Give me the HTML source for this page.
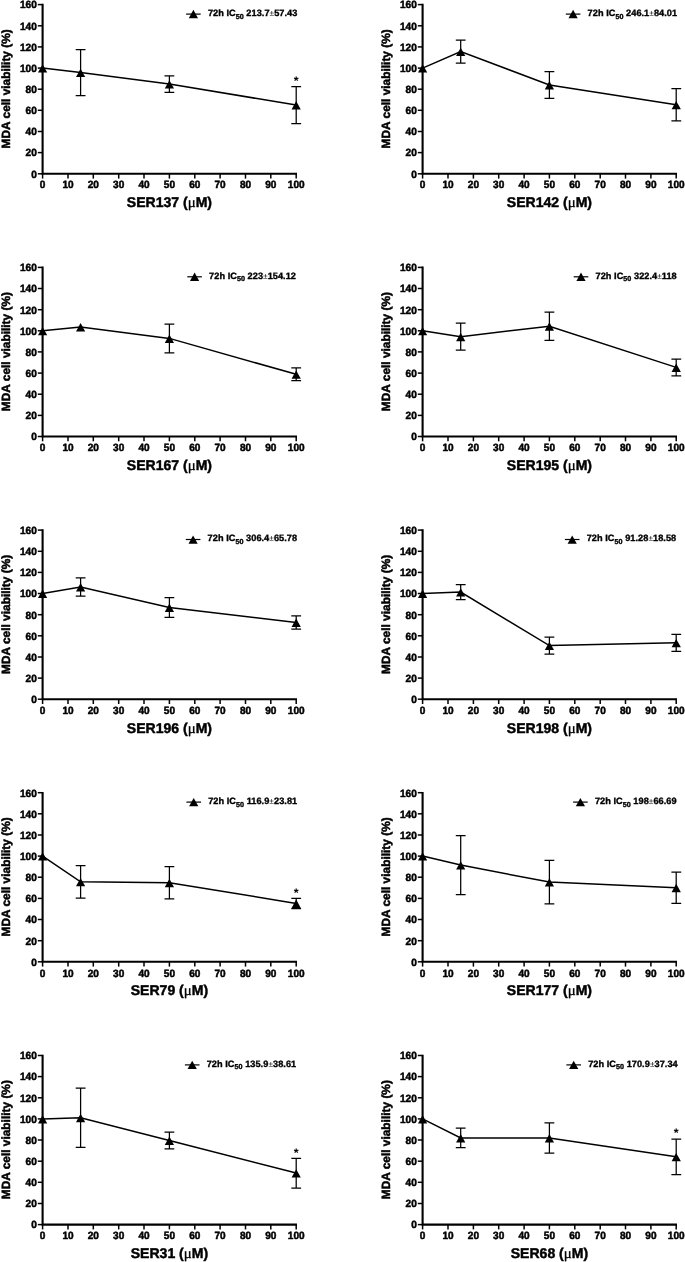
<!DOCTYPE html>
<html><head><meta charset="utf-8"><title>MDA cell viability</title>
<style>
html,body{margin:0;padding:0;background:#fff;}
svg{display:block;}
.wrap{width:685px;height:1262px;overflow:hidden;will-change:transform;}
text{font-family:"Liberation Sans",sans-serif;font-weight:bold;fill:#000;text-rendering:geometricPrecision;}
.t{font-size:10.5px;stroke:#000;stroke-width:0.5px;stroke-linejoin:round;}
.yt{font-size:11.9px;stroke:#000;stroke-width:0.5px;stroke-linejoin:round;}
.xt{font-size:14.05px;stroke:#000;stroke-width:0.45px;stroke-linejoin:round;}
.mu{font-family:"Liberation Serif",serif;font-weight:normal;font-size:14.8px;stroke:#000;stroke-width:0.3px;}
.lg{letter-spacing:0.04px;font-size:9.2px;stroke:#000;stroke-width:0.35px;stroke-linejoin:round;}
.pm{font-weight:normal;stroke:none;font-size:8.4px;}
.sub{font-size:7.2px;}
.st{font-size:12.5px;}
</style></head><body>
<div class="wrap">
<svg width="685" height="1262" viewBox="0 0 685 1262">
<rect width="685" height="1262" fill="#fff"/>
<path d="M42.6 3.8V173.8H297.0" fill="none" stroke="#000" stroke-width="2.1"/>
<path d="M37.8 173.8H42.6" stroke="#000" stroke-width="1.5"/>
<text transform="translate(36.8 177.6) scale(0.96 1)" text-anchor="end" class="t">0</text>
<path d="M37.8 152.6H42.6" stroke="#000" stroke-width="1.5"/>
<text transform="translate(36.8 156.4) scale(0.96 1)" text-anchor="end" class="t">20</text>
<path d="M37.8 131.5H42.6" stroke="#000" stroke-width="1.5"/>
<text transform="translate(36.8 135.3) scale(0.96 1)" text-anchor="end" class="t">40</text>
<path d="M37.8 110.3H42.6" stroke="#000" stroke-width="1.5"/>
<text transform="translate(36.8 114.1) scale(0.96 1)" text-anchor="end" class="t">60</text>
<path d="M37.8 89.2H42.6" stroke="#000" stroke-width="1.5"/>
<text transform="translate(36.8 93.0) scale(0.96 1)" text-anchor="end" class="t">80</text>
<path d="M37.8 68.1H42.6" stroke="#000" stroke-width="1.5"/>
<text transform="translate(36.8 71.9) scale(0.96 1)" text-anchor="end" class="t">100</text>
<path d="M37.8 46.9H42.6" stroke="#000" stroke-width="1.5"/>
<text transform="translate(36.8 50.7) scale(0.96 1)" text-anchor="end" class="t">120</text>
<path d="M37.8 25.8H42.6" stroke="#000" stroke-width="1.5"/>
<text transform="translate(36.8 29.6) scale(0.96 1)" text-anchor="end" class="t">140</text>
<path d="M37.8 4.6H42.6" stroke="#000" stroke-width="1.5"/>
<text transform="translate(36.8 8.4) scale(0.96 1)" text-anchor="end" class="t">160</text>
<path d="M42.6 173.8V178.6" stroke="#000" stroke-width="1.5"/>
<text transform="translate(42.6 188.4) scale(0.96 1)" text-anchor="middle" class="t">0</text>
<path d="M68.0 173.8V178.6" stroke="#000" stroke-width="1.5"/>
<text transform="translate(68.0 188.4) scale(0.96 1)" text-anchor="middle" class="t">10</text>
<path d="M93.3 173.8V178.6" stroke="#000" stroke-width="1.5"/>
<text transform="translate(93.3 188.4) scale(0.96 1)" text-anchor="middle" class="t">20</text>
<path d="M118.7 173.8V178.6" stroke="#000" stroke-width="1.5"/>
<text transform="translate(118.7 188.4) scale(0.96 1)" text-anchor="middle" class="t">30</text>
<path d="M144.0 173.8V178.6" stroke="#000" stroke-width="1.5"/>
<text transform="translate(144.0 188.4) scale(0.96 1)" text-anchor="middle" class="t">40</text>
<path d="M169.4 173.8V178.6" stroke="#000" stroke-width="1.5"/>
<text transform="translate(169.4 188.4) scale(0.96 1)" text-anchor="middle" class="t">50</text>
<path d="M194.8 173.8V178.6" stroke="#000" stroke-width="1.5"/>
<text transform="translate(194.8 188.4) scale(0.96 1)" text-anchor="middle" class="t">60</text>
<path d="M220.1 173.8V178.6" stroke="#000" stroke-width="1.5"/>
<text transform="translate(220.1 188.4) scale(0.96 1)" text-anchor="middle" class="t">70</text>
<path d="M245.5 173.8V178.6" stroke="#000" stroke-width="1.5"/>
<text transform="translate(245.5 188.4) scale(0.96 1)" text-anchor="middle" class="t">80</text>
<path d="M270.8 173.8V178.6" stroke="#000" stroke-width="1.5"/>
<text transform="translate(270.8 188.4) scale(0.96 1)" text-anchor="middle" class="t">90</text>
<path d="M296.2 173.8V178.6" stroke="#000" stroke-width="1.5"/>
<text transform="translate(296.2 188.4) scale(0.96 1)" text-anchor="middle" class="t">100</text>
<text transform="translate(10.4 88.8) rotate(-90)" text-anchor="middle" class="yt">MDA cell viability (%)</text>
<text x="169.4" y="207.3" text-anchor="middle" class="xt">SER137 (<tspan class="mu">μ</tspan>M)</text>
<path d="M42.6 68.1L80.6 72.6L169.4 84.1L296.2 105.0" fill="none" stroke="#000" stroke-width="1.5"/>
<path d="M42.6 64.2L47.2 72.6H38.0Z" fill="#000"/>
<path d="M80.6 49.6V95.7M75.7 49.6h9.8M75.7 95.7h9.8" fill="none" stroke="#000" stroke-width="1.25"/>
<path d="M80.6 68.7L85.2 77.1H76.0Z" fill="#000"/>
<path d="M169.4 75.9V92.4M164.5 75.9h9.8M164.5 92.4h9.8" fill="none" stroke="#000" stroke-width="1.25"/>
<path d="M169.4 80.2L174.0 88.6H164.8Z" fill="#000"/>
<path d="M296.2 86.5V123.6M291.3 86.5h9.8M291.3 123.6h9.8" fill="none" stroke="#000" stroke-width="1.25"/>
<path d="M296.2 101.1L300.8 109.5H291.6Z" fill="#000"/>
<text x="296.2" y="85.2" text-anchor="middle" class="st">*</text>
<path d="M186.1 14.1h14.6" stroke="#000" stroke-width="1.2"/>
<path d="M193.4 9.8L198.0 18.2H188.8Z" fill="#000"/>
<text x="207.9" y="15.8" class="lg">72h IC<tspan class="sub" dy="2.7">50</tspan><tspan dy="-2.7"> 213.7<tspan class="pm">±</tspan>57.43</tspan></text>
<path d="M422.6 3.8V173.8H677.0" fill="none" stroke="#000" stroke-width="2.1"/>
<path d="M417.8 173.8H422.6" stroke="#000" stroke-width="1.5"/>
<text transform="translate(416.8 177.6) scale(0.96 1)" text-anchor="end" class="t">0</text>
<path d="M417.8 152.6H422.6" stroke="#000" stroke-width="1.5"/>
<text transform="translate(416.8 156.4) scale(0.96 1)" text-anchor="end" class="t">20</text>
<path d="M417.8 131.5H422.6" stroke="#000" stroke-width="1.5"/>
<text transform="translate(416.8 135.3) scale(0.96 1)" text-anchor="end" class="t">40</text>
<path d="M417.8 110.3H422.6" stroke="#000" stroke-width="1.5"/>
<text transform="translate(416.8 114.1) scale(0.96 1)" text-anchor="end" class="t">60</text>
<path d="M417.8 89.2H422.6" stroke="#000" stroke-width="1.5"/>
<text transform="translate(416.8 93.0) scale(0.96 1)" text-anchor="end" class="t">80</text>
<path d="M417.8 68.1H422.6" stroke="#000" stroke-width="1.5"/>
<text transform="translate(416.8 71.9) scale(0.96 1)" text-anchor="end" class="t">100</text>
<path d="M417.8 46.9H422.6" stroke="#000" stroke-width="1.5"/>
<text transform="translate(416.8 50.7) scale(0.96 1)" text-anchor="end" class="t">120</text>
<path d="M417.8 25.8H422.6" stroke="#000" stroke-width="1.5"/>
<text transform="translate(416.8 29.6) scale(0.96 1)" text-anchor="end" class="t">140</text>
<path d="M417.8 4.6H422.6" stroke="#000" stroke-width="1.5"/>
<text transform="translate(416.8 8.4) scale(0.96 1)" text-anchor="end" class="t">160</text>
<path d="M422.6 173.8V178.6" stroke="#000" stroke-width="1.5"/>
<text transform="translate(422.6 188.4) scale(0.96 1)" text-anchor="middle" class="t">0</text>
<path d="M448.0 173.8V178.6" stroke="#000" stroke-width="1.5"/>
<text transform="translate(448.0 188.4) scale(0.96 1)" text-anchor="middle" class="t">10</text>
<path d="M473.4 173.8V178.6" stroke="#000" stroke-width="1.5"/>
<text transform="translate(473.4 188.4) scale(0.96 1)" text-anchor="middle" class="t">20</text>
<path d="M498.7 173.8V178.6" stroke="#000" stroke-width="1.5"/>
<text transform="translate(498.7 188.4) scale(0.96 1)" text-anchor="middle" class="t">30</text>
<path d="M524.1 173.8V178.6" stroke="#000" stroke-width="1.5"/>
<text transform="translate(524.1 188.4) scale(0.96 1)" text-anchor="middle" class="t">40</text>
<path d="M549.4 173.8V178.6" stroke="#000" stroke-width="1.5"/>
<text transform="translate(549.4 188.4) scale(0.96 1)" text-anchor="middle" class="t">50</text>
<path d="M574.8 173.8V178.6" stroke="#000" stroke-width="1.5"/>
<text transform="translate(574.8 188.4) scale(0.96 1)" text-anchor="middle" class="t">60</text>
<path d="M600.2 173.8V178.6" stroke="#000" stroke-width="1.5"/>
<text transform="translate(600.2 188.4) scale(0.96 1)" text-anchor="middle" class="t">70</text>
<path d="M625.5 173.8V178.6" stroke="#000" stroke-width="1.5"/>
<text transform="translate(625.5 188.4) scale(0.96 1)" text-anchor="middle" class="t">80</text>
<path d="M650.9 173.8V178.6" stroke="#000" stroke-width="1.5"/>
<text transform="translate(650.9 188.4) scale(0.96 1)" text-anchor="middle" class="t">90</text>
<path d="M676.2 173.8V178.6" stroke="#000" stroke-width="1.5"/>
<text transform="translate(676.2 188.4) scale(0.96 1)" text-anchor="middle" class="t">100</text>
<text transform="translate(390.4 88.8) rotate(-90)" text-anchor="middle" class="yt">MDA cell viability (%)</text>
<text x="549.4" y="207.3" text-anchor="middle" class="xt">SER142 (<tspan class="mu">μ</tspan>M)</text>
<path d="M422.6 68.1L460.7 51.6L549.4 84.9L676.2 104.8" fill="none" stroke="#000" stroke-width="1.5"/>
<path d="M422.6 64.2L427.2 72.6H418.0Z" fill="#000"/>
<path d="M460.7 40.1V63.1M455.8 40.1h9.8M455.8 63.1h9.8" fill="none" stroke="#000" stroke-width="1.25"/>
<path d="M460.7 47.7L465.3 56.1H456.1Z" fill="#000"/>
<path d="M549.4 71.5V98.3M544.5 71.5h9.8M544.5 98.3h9.8" fill="none" stroke="#000" stroke-width="1.25"/>
<path d="M549.4 81.0L554.0 89.4H544.8Z" fill="#000"/>
<path d="M676.2 88.7V120.9M671.4 88.7h9.8M671.4 120.9h9.8" fill="none" stroke="#000" stroke-width="1.25"/>
<path d="M676.2 100.9L680.9 109.3H671.6Z" fill="#000"/>
<path d="M565.8 14.1h14.6" stroke="#000" stroke-width="1.2"/>
<path d="M573.1 9.8L577.7 18.2H568.5Z" fill="#000"/>
<text x="587.6" y="15.8" class="lg">72h IC<tspan class="sub" dy="2.7">50</tspan><tspan dy="-2.7"> 246.1<tspan class="pm">±</tspan>84.01</tspan></text>
<path d="M42.6 266.6V436.5H297.0" fill="none" stroke="#000" stroke-width="2.1"/>
<path d="M37.8 436.5H42.6" stroke="#000" stroke-width="1.5"/>
<text transform="translate(36.8 440.3) scale(0.96 1)" text-anchor="end" class="t">0</text>
<path d="M37.8 415.4H42.6" stroke="#000" stroke-width="1.5"/>
<text transform="translate(36.8 419.2) scale(0.96 1)" text-anchor="end" class="t">20</text>
<path d="M37.8 394.2H42.6" stroke="#000" stroke-width="1.5"/>
<text transform="translate(36.8 398.0) scale(0.96 1)" text-anchor="end" class="t">40</text>
<path d="M37.8 373.1H42.6" stroke="#000" stroke-width="1.5"/>
<text transform="translate(36.8 376.9) scale(0.96 1)" text-anchor="end" class="t">60</text>
<path d="M37.8 351.9H42.6" stroke="#000" stroke-width="1.5"/>
<text transform="translate(36.8 355.7) scale(0.96 1)" text-anchor="end" class="t">80</text>
<path d="M37.8 330.8H42.6" stroke="#000" stroke-width="1.5"/>
<text transform="translate(36.8 334.6) scale(0.96 1)" text-anchor="end" class="t">100</text>
<path d="M37.8 309.7H42.6" stroke="#000" stroke-width="1.5"/>
<text transform="translate(36.8 313.5) scale(0.96 1)" text-anchor="end" class="t">120</text>
<path d="M37.8 288.5H42.6" stroke="#000" stroke-width="1.5"/>
<text transform="translate(36.8 292.3) scale(0.96 1)" text-anchor="end" class="t">140</text>
<path d="M37.8 267.4H42.6" stroke="#000" stroke-width="1.5"/>
<text transform="translate(36.8 271.2) scale(0.96 1)" text-anchor="end" class="t">160</text>
<path d="M42.6 436.5V441.3" stroke="#000" stroke-width="1.5"/>
<text transform="translate(42.6 451.2) scale(0.96 1)" text-anchor="middle" class="t">0</text>
<path d="M68.0 436.5V441.3" stroke="#000" stroke-width="1.5"/>
<text transform="translate(68.0 451.2) scale(0.96 1)" text-anchor="middle" class="t">10</text>
<path d="M93.3 436.5V441.3" stroke="#000" stroke-width="1.5"/>
<text transform="translate(93.3 451.2) scale(0.96 1)" text-anchor="middle" class="t">20</text>
<path d="M118.7 436.5V441.3" stroke="#000" stroke-width="1.5"/>
<text transform="translate(118.7 451.2) scale(0.96 1)" text-anchor="middle" class="t">30</text>
<path d="M144.0 436.5V441.3" stroke="#000" stroke-width="1.5"/>
<text transform="translate(144.0 451.2) scale(0.96 1)" text-anchor="middle" class="t">40</text>
<path d="M169.4 436.5V441.3" stroke="#000" stroke-width="1.5"/>
<text transform="translate(169.4 451.2) scale(0.96 1)" text-anchor="middle" class="t">50</text>
<path d="M194.8 436.5V441.3" stroke="#000" stroke-width="1.5"/>
<text transform="translate(194.8 451.2) scale(0.96 1)" text-anchor="middle" class="t">60</text>
<path d="M220.1 436.5V441.3" stroke="#000" stroke-width="1.5"/>
<text transform="translate(220.1 451.2) scale(0.96 1)" text-anchor="middle" class="t">70</text>
<path d="M245.5 436.5V441.3" stroke="#000" stroke-width="1.5"/>
<text transform="translate(245.5 451.2) scale(0.96 1)" text-anchor="middle" class="t">80</text>
<path d="M270.8 436.5V441.3" stroke="#000" stroke-width="1.5"/>
<text transform="translate(270.8 451.2) scale(0.96 1)" text-anchor="middle" class="t">90</text>
<path d="M296.2 436.5V441.3" stroke="#000" stroke-width="1.5"/>
<text transform="translate(296.2 451.2) scale(0.96 1)" text-anchor="middle" class="t">100</text>
<text transform="translate(10.4 351.6) rotate(-90)" text-anchor="middle" class="yt">MDA cell viability (%)</text>
<text x="169.4" y="470.1" text-anchor="middle" class="xt">SER167 (<tspan class="mu">μ</tspan>M)</text>
<path d="M42.6 330.8L80.6 326.9L169.4 338.4L296.2 374.3" fill="none" stroke="#000" stroke-width="1.5"/>
<path d="M42.6 326.9L47.2 335.3H38.0Z" fill="#000"/>
<path d="M80.6 323.0L85.2 331.4H76.0Z" fill="#000"/>
<path d="M169.4 324.0V352.8M164.5 324.0h9.8M164.5 352.8h9.8" fill="none" stroke="#000" stroke-width="1.25"/>
<path d="M169.4 334.5L174.0 342.9H164.8Z" fill="#000"/>
<path d="M296.2 367.9V380.6M291.3 367.9h9.8M291.3 380.6h9.8" fill="none" stroke="#000" stroke-width="1.25"/>
<path d="M296.2 370.4L300.8 378.8H291.6Z" fill="#000"/>
<path d="M187.3 276.8h14.6" stroke="#000" stroke-width="1.2"/>
<path d="M194.6 272.6L199.2 281.0H190.0Z" fill="#000"/>
<text x="209.1" y="278.5" class="lg">72h IC<tspan class="sub" dy="2.7">50</tspan><tspan dy="-2.7"> 223<tspan class="pm">±</tspan>154.12</tspan></text>
<path d="M422.6 266.6V436.5H677.0" fill="none" stroke="#000" stroke-width="2.1"/>
<path d="M417.8 436.5H422.6" stroke="#000" stroke-width="1.5"/>
<text transform="translate(416.8 440.3) scale(0.96 1)" text-anchor="end" class="t">0</text>
<path d="M417.8 415.4H422.6" stroke="#000" stroke-width="1.5"/>
<text transform="translate(416.8 419.2) scale(0.96 1)" text-anchor="end" class="t">20</text>
<path d="M417.8 394.2H422.6" stroke="#000" stroke-width="1.5"/>
<text transform="translate(416.8 398.0) scale(0.96 1)" text-anchor="end" class="t">40</text>
<path d="M417.8 373.1H422.6" stroke="#000" stroke-width="1.5"/>
<text transform="translate(416.8 376.9) scale(0.96 1)" text-anchor="end" class="t">60</text>
<path d="M417.8 351.9H422.6" stroke="#000" stroke-width="1.5"/>
<text transform="translate(416.8 355.7) scale(0.96 1)" text-anchor="end" class="t">80</text>
<path d="M417.8 330.8H422.6" stroke="#000" stroke-width="1.5"/>
<text transform="translate(416.8 334.6) scale(0.96 1)" text-anchor="end" class="t">100</text>
<path d="M417.8 309.7H422.6" stroke="#000" stroke-width="1.5"/>
<text transform="translate(416.8 313.5) scale(0.96 1)" text-anchor="end" class="t">120</text>
<path d="M417.8 288.5H422.6" stroke="#000" stroke-width="1.5"/>
<text transform="translate(416.8 292.3) scale(0.96 1)" text-anchor="end" class="t">140</text>
<path d="M417.8 267.4H422.6" stroke="#000" stroke-width="1.5"/>
<text transform="translate(416.8 271.2) scale(0.96 1)" text-anchor="end" class="t">160</text>
<path d="M422.6 436.5V441.3" stroke="#000" stroke-width="1.5"/>
<text transform="translate(422.6 451.2) scale(0.96 1)" text-anchor="middle" class="t">0</text>
<path d="M448.0 436.5V441.3" stroke="#000" stroke-width="1.5"/>
<text transform="translate(448.0 451.2) scale(0.96 1)" text-anchor="middle" class="t">10</text>
<path d="M473.4 436.5V441.3" stroke="#000" stroke-width="1.5"/>
<text transform="translate(473.4 451.2) scale(0.96 1)" text-anchor="middle" class="t">20</text>
<path d="M498.7 436.5V441.3" stroke="#000" stroke-width="1.5"/>
<text transform="translate(498.7 451.2) scale(0.96 1)" text-anchor="middle" class="t">30</text>
<path d="M524.1 436.5V441.3" stroke="#000" stroke-width="1.5"/>
<text transform="translate(524.1 451.2) scale(0.96 1)" text-anchor="middle" class="t">40</text>
<path d="M549.4 436.5V441.3" stroke="#000" stroke-width="1.5"/>
<text transform="translate(549.4 451.2) scale(0.96 1)" text-anchor="middle" class="t">50</text>
<path d="M574.8 436.5V441.3" stroke="#000" stroke-width="1.5"/>
<text transform="translate(574.8 451.2) scale(0.96 1)" text-anchor="middle" class="t">60</text>
<path d="M600.2 436.5V441.3" stroke="#000" stroke-width="1.5"/>
<text transform="translate(600.2 451.2) scale(0.96 1)" text-anchor="middle" class="t">70</text>
<path d="M625.5 436.5V441.3" stroke="#000" stroke-width="1.5"/>
<text transform="translate(625.5 451.2) scale(0.96 1)" text-anchor="middle" class="t">80</text>
<path d="M650.9 436.5V441.3" stroke="#000" stroke-width="1.5"/>
<text transform="translate(650.9 451.2) scale(0.96 1)" text-anchor="middle" class="t">90</text>
<path d="M676.2 436.5V441.3" stroke="#000" stroke-width="1.5"/>
<text transform="translate(676.2 451.2) scale(0.96 1)" text-anchor="middle" class="t">100</text>
<text transform="translate(390.4 351.6) rotate(-90)" text-anchor="middle" class="yt">MDA cell viability (%)</text>
<text x="549.4" y="470.1" text-anchor="middle" class="xt">SER195 (<tspan class="mu">μ</tspan>M)</text>
<path d="M422.6 330.8L460.7 336.7L549.4 326.2L676.2 367.4" fill="none" stroke="#000" stroke-width="1.5"/>
<path d="M422.6 326.9L427.2 335.3H418.0Z" fill="#000"/>
<path d="M460.7 323.2V350.2M455.8 323.2h9.8M455.8 350.2h9.8" fill="none" stroke="#000" stroke-width="1.25"/>
<path d="M460.7 332.8L465.3 341.2H456.1Z" fill="#000"/>
<path d="M549.4 312.0V340.3M544.5 312.0h9.8M544.5 340.3h9.8" fill="none" stroke="#000" stroke-width="1.25"/>
<path d="M549.4 322.3L554.0 330.7H544.8Z" fill="#000"/>
<path d="M676.2 359.0V375.8M671.4 359.0h9.8M671.4 375.8h9.8" fill="none" stroke="#000" stroke-width="1.25"/>
<path d="M676.2 363.5L680.9 371.9H671.6Z" fill="#000"/>
<path d="M573.7 276.8h14.6" stroke="#000" stroke-width="1.2"/>
<path d="M581.0 272.6L585.6 281.0H576.4Z" fill="#000"/>
<text x="595.5" y="278.5" class="lg">72h IC<tspan class="sub" dy="2.7">50</tspan><tspan dy="-2.7"> 322.4<tspan class="pm">±</tspan>118</tspan></text>
<path d="M42.6 529.3V699.2H297.0" fill="none" stroke="#000" stroke-width="2.1"/>
<path d="M37.8 699.2H42.6" stroke="#000" stroke-width="1.5"/>
<text transform="translate(36.8 703.0) scale(0.96 1)" text-anchor="end" class="t">0</text>
<path d="M37.8 678.1H42.6" stroke="#000" stroke-width="1.5"/>
<text transform="translate(36.8 681.9) scale(0.96 1)" text-anchor="end" class="t">20</text>
<path d="M37.8 657.0H42.6" stroke="#000" stroke-width="1.5"/>
<text transform="translate(36.8 660.8) scale(0.96 1)" text-anchor="end" class="t">40</text>
<path d="M37.8 635.8H42.6" stroke="#000" stroke-width="1.5"/>
<text transform="translate(36.8 639.6) scale(0.96 1)" text-anchor="end" class="t">60</text>
<path d="M37.8 614.7H42.6" stroke="#000" stroke-width="1.5"/>
<text transform="translate(36.8 618.5) scale(0.96 1)" text-anchor="end" class="t">80</text>
<path d="M37.8 593.5H42.6" stroke="#000" stroke-width="1.5"/>
<text transform="translate(36.8 597.3) scale(0.96 1)" text-anchor="end" class="t">100</text>
<path d="M37.8 572.4H42.6" stroke="#000" stroke-width="1.5"/>
<text transform="translate(36.8 576.2) scale(0.96 1)" text-anchor="end" class="t">120</text>
<path d="M37.8 551.3H42.6" stroke="#000" stroke-width="1.5"/>
<text transform="translate(36.8 555.1) scale(0.96 1)" text-anchor="end" class="t">140</text>
<path d="M37.8 530.1H42.6" stroke="#000" stroke-width="1.5"/>
<text transform="translate(36.8 533.9) scale(0.96 1)" text-anchor="end" class="t">160</text>
<path d="M42.6 699.2V704.0" stroke="#000" stroke-width="1.5"/>
<text transform="translate(42.6 714.0) scale(0.96 1)" text-anchor="middle" class="t">0</text>
<path d="M68.0 699.2V704.0" stroke="#000" stroke-width="1.5"/>
<text transform="translate(68.0 714.0) scale(0.96 1)" text-anchor="middle" class="t">10</text>
<path d="M93.3 699.2V704.0" stroke="#000" stroke-width="1.5"/>
<text transform="translate(93.3 714.0) scale(0.96 1)" text-anchor="middle" class="t">20</text>
<path d="M118.7 699.2V704.0" stroke="#000" stroke-width="1.5"/>
<text transform="translate(118.7 714.0) scale(0.96 1)" text-anchor="middle" class="t">30</text>
<path d="M144.0 699.2V704.0" stroke="#000" stroke-width="1.5"/>
<text transform="translate(144.0 714.0) scale(0.96 1)" text-anchor="middle" class="t">40</text>
<path d="M169.4 699.2V704.0" stroke="#000" stroke-width="1.5"/>
<text transform="translate(169.4 714.0) scale(0.96 1)" text-anchor="middle" class="t">50</text>
<path d="M194.8 699.2V704.0" stroke="#000" stroke-width="1.5"/>
<text transform="translate(194.8 714.0) scale(0.96 1)" text-anchor="middle" class="t">60</text>
<path d="M220.1 699.2V704.0" stroke="#000" stroke-width="1.5"/>
<text transform="translate(220.1 714.0) scale(0.96 1)" text-anchor="middle" class="t">70</text>
<path d="M245.5 699.2V704.0" stroke="#000" stroke-width="1.5"/>
<text transform="translate(245.5 714.0) scale(0.96 1)" text-anchor="middle" class="t">80</text>
<path d="M270.8 699.2V704.0" stroke="#000" stroke-width="1.5"/>
<text transform="translate(270.8 714.0) scale(0.96 1)" text-anchor="middle" class="t">90</text>
<path d="M296.2 699.2V704.0" stroke="#000" stroke-width="1.5"/>
<text transform="translate(296.2 714.0) scale(0.96 1)" text-anchor="middle" class="t">100</text>
<text transform="translate(10.4 614.4) rotate(-90)" text-anchor="middle" class="yt">MDA cell viability (%)</text>
<text x="169.4" y="732.9" text-anchor="middle" class="xt">SER196 (<tspan class="mu">μ</tspan>M)</text>
<path d="M42.6 593.5L80.6 587.0L169.4 607.5L296.2 622.5" fill="none" stroke="#000" stroke-width="1.5"/>
<path d="M42.6 589.6L47.2 598.0H38.0Z" fill="#000"/>
<path d="M80.6 577.8V596.1M75.7 577.8h9.8M75.7 596.1h9.8" fill="none" stroke="#000" stroke-width="1.25"/>
<path d="M80.6 583.1L85.2 591.5H76.0Z" fill="#000"/>
<path d="M169.4 597.5V617.4M164.5 597.5h9.8M164.5 617.4h9.8" fill="none" stroke="#000" stroke-width="1.25"/>
<path d="M169.4 603.6L174.0 612.0H164.8Z" fill="#000"/>
<path d="M296.2 615.9V629.0M291.3 615.9h9.8M291.3 629.0h9.8" fill="none" stroke="#000" stroke-width="1.25"/>
<path d="M296.2 618.6L300.8 627.0H291.6Z" fill="#000"/>
<path d="M185.8 539.5h14.6" stroke="#000" stroke-width="1.2"/>
<path d="M193.1 535.4L197.7 543.8H188.5Z" fill="#000"/>
<text x="207.6" y="541.2" class="lg">72h IC<tspan class="sub" dy="2.7">50</tspan><tspan dy="-2.7"> 306.4<tspan class="pm">±</tspan>65.78</tspan></text>
<path d="M422.6 529.3V699.2H677.0" fill="none" stroke="#000" stroke-width="2.1"/>
<path d="M417.8 699.2H422.6" stroke="#000" stroke-width="1.5"/>
<text transform="translate(416.8 703.0) scale(0.96 1)" text-anchor="end" class="t">0</text>
<path d="M417.8 678.1H422.6" stroke="#000" stroke-width="1.5"/>
<text transform="translate(416.8 681.9) scale(0.96 1)" text-anchor="end" class="t">20</text>
<path d="M417.8 657.0H422.6" stroke="#000" stroke-width="1.5"/>
<text transform="translate(416.8 660.8) scale(0.96 1)" text-anchor="end" class="t">40</text>
<path d="M417.8 635.8H422.6" stroke="#000" stroke-width="1.5"/>
<text transform="translate(416.8 639.6) scale(0.96 1)" text-anchor="end" class="t">60</text>
<path d="M417.8 614.7H422.6" stroke="#000" stroke-width="1.5"/>
<text transform="translate(416.8 618.5) scale(0.96 1)" text-anchor="end" class="t">80</text>
<path d="M417.8 593.5H422.6" stroke="#000" stroke-width="1.5"/>
<text transform="translate(416.8 597.3) scale(0.96 1)" text-anchor="end" class="t">100</text>
<path d="M417.8 572.4H422.6" stroke="#000" stroke-width="1.5"/>
<text transform="translate(416.8 576.2) scale(0.96 1)" text-anchor="end" class="t">120</text>
<path d="M417.8 551.3H422.6" stroke="#000" stroke-width="1.5"/>
<text transform="translate(416.8 555.1) scale(0.96 1)" text-anchor="end" class="t">140</text>
<path d="M417.8 530.1H422.6" stroke="#000" stroke-width="1.5"/>
<text transform="translate(416.8 533.9) scale(0.96 1)" text-anchor="end" class="t">160</text>
<path d="M422.6 699.2V704.0" stroke="#000" stroke-width="1.5"/>
<text transform="translate(422.6 714.0) scale(0.96 1)" text-anchor="middle" class="t">0</text>
<path d="M448.0 699.2V704.0" stroke="#000" stroke-width="1.5"/>
<text transform="translate(448.0 714.0) scale(0.96 1)" text-anchor="middle" class="t">10</text>
<path d="M473.4 699.2V704.0" stroke="#000" stroke-width="1.5"/>
<text transform="translate(473.4 714.0) scale(0.96 1)" text-anchor="middle" class="t">20</text>
<path d="M498.7 699.2V704.0" stroke="#000" stroke-width="1.5"/>
<text transform="translate(498.7 714.0) scale(0.96 1)" text-anchor="middle" class="t">30</text>
<path d="M524.1 699.2V704.0" stroke="#000" stroke-width="1.5"/>
<text transform="translate(524.1 714.0) scale(0.96 1)" text-anchor="middle" class="t">40</text>
<path d="M549.4 699.2V704.0" stroke="#000" stroke-width="1.5"/>
<text transform="translate(549.4 714.0) scale(0.96 1)" text-anchor="middle" class="t">50</text>
<path d="M574.8 699.2V704.0" stroke="#000" stroke-width="1.5"/>
<text transform="translate(574.8 714.0) scale(0.96 1)" text-anchor="middle" class="t">60</text>
<path d="M600.2 699.2V704.0" stroke="#000" stroke-width="1.5"/>
<text transform="translate(600.2 714.0) scale(0.96 1)" text-anchor="middle" class="t">70</text>
<path d="M625.5 699.2V704.0" stroke="#000" stroke-width="1.5"/>
<text transform="translate(625.5 714.0) scale(0.96 1)" text-anchor="middle" class="t">80</text>
<path d="M650.9 699.2V704.0" stroke="#000" stroke-width="1.5"/>
<text transform="translate(650.9 714.0) scale(0.96 1)" text-anchor="middle" class="t">90</text>
<path d="M676.2 699.2V704.0" stroke="#000" stroke-width="1.5"/>
<text transform="translate(676.2 714.0) scale(0.96 1)" text-anchor="middle" class="t">100</text>
<text transform="translate(390.4 614.4) rotate(-90)" text-anchor="middle" class="yt">MDA cell viability (%)</text>
<text x="549.4" y="732.9" text-anchor="middle" class="xt">SER198 (<tspan class="mu">μ</tspan>M)</text>
<path d="M422.6 593.5L460.7 592.1L549.4 645.6L676.2 642.8" fill="none" stroke="#000" stroke-width="1.5"/>
<path d="M422.6 589.6L427.2 598.0H418.0Z" fill="#000"/>
<path d="M460.7 584.5V599.6M455.8 584.5h9.8M455.8 599.6h9.8" fill="none" stroke="#000" stroke-width="1.25"/>
<path d="M460.7 588.2L465.3 596.6H456.1Z" fill="#000"/>
<path d="M549.4 637.1V654.2M544.5 637.1h9.8M544.5 654.2h9.8" fill="none" stroke="#000" stroke-width="1.25"/>
<path d="M549.4 641.7L554.0 650.1H544.8Z" fill="#000"/>
<path d="M676.2 634.3V651.3M671.4 634.3h9.8M671.4 651.3h9.8" fill="none" stroke="#000" stroke-width="1.25"/>
<path d="M676.2 638.9L680.9 647.3H671.6Z" fill="#000"/>
<path d="M564.9 539.5h14.6" stroke="#000" stroke-width="1.2"/>
<path d="M572.2 535.4L576.8 543.8H567.6Z" fill="#000"/>
<text x="586.7" y="541.2" class="lg">72h IC<tspan class="sub" dy="2.7">50</tspan><tspan dy="-2.7"> 91.28<tspan class="pm">±</tspan>18.58</tspan></text>
<path d="M42.6 791.9V961.8H297.0" fill="none" stroke="#000" stroke-width="2.1"/>
<path d="M37.8 961.8H42.6" stroke="#000" stroke-width="1.5"/>
<text transform="translate(36.8 965.6) scale(0.96 1)" text-anchor="end" class="t">0</text>
<path d="M37.8 940.7H42.6" stroke="#000" stroke-width="1.5"/>
<text transform="translate(36.8 944.5) scale(0.96 1)" text-anchor="end" class="t">20</text>
<path d="M37.8 919.5H42.6" stroke="#000" stroke-width="1.5"/>
<text transform="translate(36.8 923.3) scale(0.96 1)" text-anchor="end" class="t">40</text>
<path d="M37.8 898.4H42.6" stroke="#000" stroke-width="1.5"/>
<text transform="translate(36.8 902.2) scale(0.96 1)" text-anchor="end" class="t">60</text>
<path d="M37.8 877.2H42.6" stroke="#000" stroke-width="1.5"/>
<text transform="translate(36.8 881.0) scale(0.96 1)" text-anchor="end" class="t">80</text>
<path d="M37.8 856.1H42.6" stroke="#000" stroke-width="1.5"/>
<text transform="translate(36.8 859.9) scale(0.96 1)" text-anchor="end" class="t">100</text>
<path d="M37.8 835.0H42.6" stroke="#000" stroke-width="1.5"/>
<text transform="translate(36.8 838.8) scale(0.96 1)" text-anchor="end" class="t">120</text>
<path d="M37.8 813.8H42.6" stroke="#000" stroke-width="1.5"/>
<text transform="translate(36.8 817.6) scale(0.96 1)" text-anchor="end" class="t">140</text>
<path d="M37.8 792.7H42.6" stroke="#000" stroke-width="1.5"/>
<text transform="translate(36.8 796.5) scale(0.96 1)" text-anchor="end" class="t">160</text>
<path d="M42.6 961.8V966.6" stroke="#000" stroke-width="1.5"/>
<text transform="translate(42.6 976.5) scale(0.96 1)" text-anchor="middle" class="t">0</text>
<path d="M68.0 961.8V966.6" stroke="#000" stroke-width="1.5"/>
<text transform="translate(68.0 976.5) scale(0.96 1)" text-anchor="middle" class="t">10</text>
<path d="M93.3 961.8V966.6" stroke="#000" stroke-width="1.5"/>
<text transform="translate(93.3 976.5) scale(0.96 1)" text-anchor="middle" class="t">20</text>
<path d="M118.7 961.8V966.6" stroke="#000" stroke-width="1.5"/>
<text transform="translate(118.7 976.5) scale(0.96 1)" text-anchor="middle" class="t">30</text>
<path d="M144.0 961.8V966.6" stroke="#000" stroke-width="1.5"/>
<text transform="translate(144.0 976.5) scale(0.96 1)" text-anchor="middle" class="t">40</text>
<path d="M169.4 961.8V966.6" stroke="#000" stroke-width="1.5"/>
<text transform="translate(169.4 976.5) scale(0.96 1)" text-anchor="middle" class="t">50</text>
<path d="M194.8 961.8V966.6" stroke="#000" stroke-width="1.5"/>
<text transform="translate(194.8 976.5) scale(0.96 1)" text-anchor="middle" class="t">60</text>
<path d="M220.1 961.8V966.6" stroke="#000" stroke-width="1.5"/>
<text transform="translate(220.1 976.5) scale(0.96 1)" text-anchor="middle" class="t">70</text>
<path d="M245.5 961.8V966.6" stroke="#000" stroke-width="1.5"/>
<text transform="translate(245.5 976.5) scale(0.96 1)" text-anchor="middle" class="t">80</text>
<path d="M270.8 961.8V966.6" stroke="#000" stroke-width="1.5"/>
<text transform="translate(270.8 976.5) scale(0.96 1)" text-anchor="middle" class="t">90</text>
<path d="M296.2 961.8V966.6" stroke="#000" stroke-width="1.5"/>
<text transform="translate(296.2 976.5) scale(0.96 1)" text-anchor="middle" class="t">100</text>
<text transform="translate(10.4 876.9) rotate(-90)" text-anchor="middle" class="yt">MDA cell viability (%)</text>
<text x="169.4" y="995.4" text-anchor="middle" class="xt">SER79 (<tspan class="mu">μ</tspan>M)</text>
<path d="M42.6 856.1L80.6 881.8L169.4 882.7L296.2 903.4" fill="none" stroke="#000" stroke-width="1.5"/>
<path d="M42.6 852.2L47.2 860.6H38.0Z" fill="#000"/>
<path d="M80.6 865.5V898.2M75.7 865.5h9.8M75.7 898.2h9.8" fill="none" stroke="#000" stroke-width="1.25"/>
<path d="M80.6 877.9L85.2 886.3H76.0Z" fill="#000"/>
<path d="M169.4 866.7V898.8M164.5 866.7h9.8M164.5 898.8h9.8" fill="none" stroke="#000" stroke-width="1.25"/>
<path d="M169.4 878.8L174.0 887.2H164.8Z" fill="#000"/>
<path d="M296.2 898.4V908.5M291.3 898.4h9.8M291.3 908.5h9.8" fill="none" stroke="#000" stroke-width="1.25"/>
<path d="M296.2 899.5L300.8 907.9H291.6Z" fill="#000"/>
<text x="296.2" y="897.1" text-anchor="middle" class="st">*</text>
<path d="M186.4 802.1h14.6" stroke="#000" stroke-width="1.2"/>
<path d="M193.7 797.9L198.3 806.3H189.1Z" fill="#000"/>
<text x="208.2" y="803.8" class="lg">72h IC<tspan class="sub" dy="2.7">50</tspan><tspan dy="-2.7"> 116.9<tspan class="pm">±</tspan>23.81</tspan></text>
<path d="M422.6 791.9V961.8H677.0" fill="none" stroke="#000" stroke-width="2.1"/>
<path d="M417.8 961.8H422.6" stroke="#000" stroke-width="1.5"/>
<text transform="translate(416.8 965.6) scale(0.96 1)" text-anchor="end" class="t">0</text>
<path d="M417.8 940.7H422.6" stroke="#000" stroke-width="1.5"/>
<text transform="translate(416.8 944.5) scale(0.96 1)" text-anchor="end" class="t">20</text>
<path d="M417.8 919.5H422.6" stroke="#000" stroke-width="1.5"/>
<text transform="translate(416.8 923.3) scale(0.96 1)" text-anchor="end" class="t">40</text>
<path d="M417.8 898.4H422.6" stroke="#000" stroke-width="1.5"/>
<text transform="translate(416.8 902.2) scale(0.96 1)" text-anchor="end" class="t">60</text>
<path d="M417.8 877.2H422.6" stroke="#000" stroke-width="1.5"/>
<text transform="translate(416.8 881.0) scale(0.96 1)" text-anchor="end" class="t">80</text>
<path d="M417.8 856.1H422.6" stroke="#000" stroke-width="1.5"/>
<text transform="translate(416.8 859.9) scale(0.96 1)" text-anchor="end" class="t">100</text>
<path d="M417.8 835.0H422.6" stroke="#000" stroke-width="1.5"/>
<text transform="translate(416.8 838.8) scale(0.96 1)" text-anchor="end" class="t">120</text>
<path d="M417.8 813.8H422.6" stroke="#000" stroke-width="1.5"/>
<text transform="translate(416.8 817.6) scale(0.96 1)" text-anchor="end" class="t">140</text>
<path d="M417.8 792.7H422.6" stroke="#000" stroke-width="1.5"/>
<text transform="translate(416.8 796.5) scale(0.96 1)" text-anchor="end" class="t">160</text>
<path d="M422.6 961.8V966.6" stroke="#000" stroke-width="1.5"/>
<text transform="translate(422.6 976.5) scale(0.96 1)" text-anchor="middle" class="t">0</text>
<path d="M448.0 961.8V966.6" stroke="#000" stroke-width="1.5"/>
<text transform="translate(448.0 976.5) scale(0.96 1)" text-anchor="middle" class="t">10</text>
<path d="M473.4 961.8V966.6" stroke="#000" stroke-width="1.5"/>
<text transform="translate(473.4 976.5) scale(0.96 1)" text-anchor="middle" class="t">20</text>
<path d="M498.7 961.8V966.6" stroke="#000" stroke-width="1.5"/>
<text transform="translate(498.7 976.5) scale(0.96 1)" text-anchor="middle" class="t">30</text>
<path d="M524.1 961.8V966.6" stroke="#000" stroke-width="1.5"/>
<text transform="translate(524.1 976.5) scale(0.96 1)" text-anchor="middle" class="t">40</text>
<path d="M549.4 961.8V966.6" stroke="#000" stroke-width="1.5"/>
<text transform="translate(549.4 976.5) scale(0.96 1)" text-anchor="middle" class="t">50</text>
<path d="M574.8 961.8V966.6" stroke="#000" stroke-width="1.5"/>
<text transform="translate(574.8 976.5) scale(0.96 1)" text-anchor="middle" class="t">60</text>
<path d="M600.2 961.8V966.6" stroke="#000" stroke-width="1.5"/>
<text transform="translate(600.2 976.5) scale(0.96 1)" text-anchor="middle" class="t">70</text>
<path d="M625.5 961.8V966.6" stroke="#000" stroke-width="1.5"/>
<text transform="translate(625.5 976.5) scale(0.96 1)" text-anchor="middle" class="t">80</text>
<path d="M650.9 961.8V966.6" stroke="#000" stroke-width="1.5"/>
<text transform="translate(650.9 976.5) scale(0.96 1)" text-anchor="middle" class="t">90</text>
<path d="M676.2 961.8V966.6" stroke="#000" stroke-width="1.5"/>
<text transform="translate(676.2 976.5) scale(0.96 1)" text-anchor="middle" class="t">100</text>
<text transform="translate(390.4 876.9) rotate(-90)" text-anchor="middle" class="yt">MDA cell viability (%)</text>
<text x="549.4" y="995.4" text-anchor="middle" class="xt">SER177 (<tspan class="mu">μ</tspan>M)</text>
<path d="M422.6 856.1L460.7 865.1L549.4 882.1L676.2 887.7" fill="none" stroke="#000" stroke-width="1.5"/>
<path d="M422.6 852.2L427.2 860.6H418.0Z" fill="#000"/>
<path d="M460.7 835.5V894.7M455.8 835.5h9.8M455.8 894.7h9.8" fill="none" stroke="#000" stroke-width="1.25"/>
<path d="M460.7 861.2L465.3 869.6H456.1Z" fill="#000"/>
<path d="M549.4 860.3V903.9M544.5 860.3h9.8M544.5 903.9h9.8" fill="none" stroke="#000" stroke-width="1.25"/>
<path d="M549.4 878.2L554.0 886.6H544.8Z" fill="#000"/>
<path d="M676.2 872.1V903.3M671.4 872.1h9.8M671.4 903.3h9.8" fill="none" stroke="#000" stroke-width="1.25"/>
<path d="M676.2 883.8L680.9 892.2H671.6Z" fill="#000"/>
<path d="M573.1 802.1h14.6" stroke="#000" stroke-width="1.2"/>
<path d="M580.4 797.9L585.0 806.3H575.8Z" fill="#000"/>
<text x="594.9" y="803.8" class="lg">72h IC<tspan class="sub" dy="2.7">50</tspan><tspan dy="-2.7"> 198<tspan class="pm">±</tspan>66.69</tspan></text>
<path d="M42.6 1054.7V1224.6H297.0" fill="none" stroke="#000" stroke-width="2.1"/>
<path d="M37.8 1224.6H42.6" stroke="#000" stroke-width="1.5"/>
<text transform="translate(36.8 1228.4) scale(0.96 1)" text-anchor="end" class="t">0</text>
<path d="M37.8 1203.5H42.6" stroke="#000" stroke-width="1.5"/>
<text transform="translate(36.8 1207.3) scale(0.96 1)" text-anchor="end" class="t">20</text>
<path d="M37.8 1182.3H42.6" stroke="#000" stroke-width="1.5"/>
<text transform="translate(36.8 1186.1) scale(0.96 1)" text-anchor="end" class="t">40</text>
<path d="M37.8 1161.2H42.6" stroke="#000" stroke-width="1.5"/>
<text transform="translate(36.8 1165.0) scale(0.96 1)" text-anchor="end" class="t">60</text>
<path d="M37.8 1140.0H42.6" stroke="#000" stroke-width="1.5"/>
<text transform="translate(36.8 1143.8) scale(0.96 1)" text-anchor="end" class="t">80</text>
<path d="M37.8 1118.9H42.6" stroke="#000" stroke-width="1.5"/>
<text transform="translate(36.8 1122.7) scale(0.96 1)" text-anchor="end" class="t">100</text>
<path d="M37.8 1097.8H42.6" stroke="#000" stroke-width="1.5"/>
<text transform="translate(36.8 1101.6) scale(0.96 1)" text-anchor="end" class="t">120</text>
<path d="M37.8 1076.6H42.6" stroke="#000" stroke-width="1.5"/>
<text transform="translate(36.8 1080.4) scale(0.96 1)" text-anchor="end" class="t">140</text>
<path d="M37.8 1055.5H42.6" stroke="#000" stroke-width="1.5"/>
<text transform="translate(36.8 1059.3) scale(0.96 1)" text-anchor="end" class="t">160</text>
<path d="M42.6 1224.6V1229.4" stroke="#000" stroke-width="1.5"/>
<text transform="translate(42.6 1239.3) scale(0.96 1)" text-anchor="middle" class="t">0</text>
<path d="M68.0 1224.6V1229.4" stroke="#000" stroke-width="1.5"/>
<text transform="translate(68.0 1239.3) scale(0.96 1)" text-anchor="middle" class="t">10</text>
<path d="M93.3 1224.6V1229.4" stroke="#000" stroke-width="1.5"/>
<text transform="translate(93.3 1239.3) scale(0.96 1)" text-anchor="middle" class="t">20</text>
<path d="M118.7 1224.6V1229.4" stroke="#000" stroke-width="1.5"/>
<text transform="translate(118.7 1239.3) scale(0.96 1)" text-anchor="middle" class="t">30</text>
<path d="M144.0 1224.6V1229.4" stroke="#000" stroke-width="1.5"/>
<text transform="translate(144.0 1239.3) scale(0.96 1)" text-anchor="middle" class="t">40</text>
<path d="M169.4 1224.6V1229.4" stroke="#000" stroke-width="1.5"/>
<text transform="translate(169.4 1239.3) scale(0.96 1)" text-anchor="middle" class="t">50</text>
<path d="M194.8 1224.6V1229.4" stroke="#000" stroke-width="1.5"/>
<text transform="translate(194.8 1239.3) scale(0.96 1)" text-anchor="middle" class="t">60</text>
<path d="M220.1 1224.6V1229.4" stroke="#000" stroke-width="1.5"/>
<text transform="translate(220.1 1239.3) scale(0.96 1)" text-anchor="middle" class="t">70</text>
<path d="M245.5 1224.6V1229.4" stroke="#000" stroke-width="1.5"/>
<text transform="translate(245.5 1239.3) scale(0.96 1)" text-anchor="middle" class="t">80</text>
<path d="M270.8 1224.6V1229.4" stroke="#000" stroke-width="1.5"/>
<text transform="translate(270.8 1239.3) scale(0.96 1)" text-anchor="middle" class="t">90</text>
<path d="M296.2 1224.6V1229.4" stroke="#000" stroke-width="1.5"/>
<text transform="translate(296.2 1239.3) scale(0.96 1)" text-anchor="middle" class="t">100</text>
<text transform="translate(10.4 1139.7) rotate(-90)" text-anchor="middle" class="yt">MDA cell viability (%)</text>
<text x="169.4" y="1258.2" text-anchor="middle" class="xt">SER31 (<tspan class="mu">μ</tspan>M)</text>
<path d="M42.6 1118.9L80.6 1117.7L169.4 1140.4L296.2 1173.1" fill="none" stroke="#000" stroke-width="1.5"/>
<path d="M42.6 1115.0L47.2 1123.4H38.0Z" fill="#000"/>
<path d="M80.6 1088.2V1147.3M75.7 1088.2h9.8M75.7 1147.3h9.8" fill="none" stroke="#000" stroke-width="1.25"/>
<path d="M80.6 1113.8L85.2 1122.2H76.0Z" fill="#000"/>
<path d="M169.4 1132.0V1148.8M164.5 1132.0h9.8M164.5 1148.8h9.8" fill="none" stroke="#000" stroke-width="1.25"/>
<path d="M169.4 1136.5L174.0 1144.9H164.8Z" fill="#000"/>
<path d="M296.2 1158.3V1188.0M291.3 1158.3h9.8M291.3 1188.0h9.8" fill="none" stroke="#000" stroke-width="1.25"/>
<path d="M296.2 1169.2L300.8 1177.6H291.6Z" fill="#000"/>
<text x="296.2" y="1157.0" text-anchor="middle" class="st">*</text>
<path d="M184.9 1064.9h14.6" stroke="#000" stroke-width="1.2"/>
<path d="M192.2 1060.7L196.8 1069.1H187.6Z" fill="#000"/>
<text x="206.7" y="1066.6" class="lg">72h IC<tspan class="sub" dy="2.7">50</tspan><tspan dy="-2.7"> 135.9<tspan class="pm">±</tspan>38.61</tspan></text>
<path d="M422.6 1054.7V1224.6H677.0" fill="none" stroke="#000" stroke-width="2.1"/>
<path d="M417.8 1224.6H422.6" stroke="#000" stroke-width="1.5"/>
<text transform="translate(416.8 1228.4) scale(0.96 1)" text-anchor="end" class="t">0</text>
<path d="M417.8 1203.5H422.6" stroke="#000" stroke-width="1.5"/>
<text transform="translate(416.8 1207.3) scale(0.96 1)" text-anchor="end" class="t">20</text>
<path d="M417.8 1182.3H422.6" stroke="#000" stroke-width="1.5"/>
<text transform="translate(416.8 1186.1) scale(0.96 1)" text-anchor="end" class="t">40</text>
<path d="M417.8 1161.2H422.6" stroke="#000" stroke-width="1.5"/>
<text transform="translate(416.8 1165.0) scale(0.96 1)" text-anchor="end" class="t">60</text>
<path d="M417.8 1140.0H422.6" stroke="#000" stroke-width="1.5"/>
<text transform="translate(416.8 1143.8) scale(0.96 1)" text-anchor="end" class="t">80</text>
<path d="M417.8 1118.9H422.6" stroke="#000" stroke-width="1.5"/>
<text transform="translate(416.8 1122.7) scale(0.96 1)" text-anchor="end" class="t">100</text>
<path d="M417.8 1097.8H422.6" stroke="#000" stroke-width="1.5"/>
<text transform="translate(416.8 1101.6) scale(0.96 1)" text-anchor="end" class="t">120</text>
<path d="M417.8 1076.6H422.6" stroke="#000" stroke-width="1.5"/>
<text transform="translate(416.8 1080.4) scale(0.96 1)" text-anchor="end" class="t">140</text>
<path d="M417.8 1055.5H422.6" stroke="#000" stroke-width="1.5"/>
<text transform="translate(416.8 1059.3) scale(0.96 1)" text-anchor="end" class="t">160</text>
<path d="M422.6 1224.6V1229.4" stroke="#000" stroke-width="1.5"/>
<text transform="translate(422.6 1239.3) scale(0.96 1)" text-anchor="middle" class="t">0</text>
<path d="M448.0 1224.6V1229.4" stroke="#000" stroke-width="1.5"/>
<text transform="translate(448.0 1239.3) scale(0.96 1)" text-anchor="middle" class="t">10</text>
<path d="M473.4 1224.6V1229.4" stroke="#000" stroke-width="1.5"/>
<text transform="translate(473.4 1239.3) scale(0.96 1)" text-anchor="middle" class="t">20</text>
<path d="M498.7 1224.6V1229.4" stroke="#000" stroke-width="1.5"/>
<text transform="translate(498.7 1239.3) scale(0.96 1)" text-anchor="middle" class="t">30</text>
<path d="M524.1 1224.6V1229.4" stroke="#000" stroke-width="1.5"/>
<text transform="translate(524.1 1239.3) scale(0.96 1)" text-anchor="middle" class="t">40</text>
<path d="M549.4 1224.6V1229.4" stroke="#000" stroke-width="1.5"/>
<text transform="translate(549.4 1239.3) scale(0.96 1)" text-anchor="middle" class="t">50</text>
<path d="M574.8 1224.6V1229.4" stroke="#000" stroke-width="1.5"/>
<text transform="translate(574.8 1239.3) scale(0.96 1)" text-anchor="middle" class="t">60</text>
<path d="M600.2 1224.6V1229.4" stroke="#000" stroke-width="1.5"/>
<text transform="translate(600.2 1239.3) scale(0.96 1)" text-anchor="middle" class="t">70</text>
<path d="M625.5 1224.6V1229.4" stroke="#000" stroke-width="1.5"/>
<text transform="translate(625.5 1239.3) scale(0.96 1)" text-anchor="middle" class="t">80</text>
<path d="M650.9 1224.6V1229.4" stroke="#000" stroke-width="1.5"/>
<text transform="translate(650.9 1239.3) scale(0.96 1)" text-anchor="middle" class="t">90</text>
<path d="M676.2 1224.6V1229.4" stroke="#000" stroke-width="1.5"/>
<text transform="translate(676.2 1239.3) scale(0.96 1)" text-anchor="middle" class="t">100</text>
<text transform="translate(390.4 1139.7) rotate(-90)" text-anchor="middle" class="yt">MDA cell viability (%)</text>
<text x="549.4" y="1258.2" text-anchor="middle" class="xt">SER68 (<tspan class="mu">μ</tspan>M)</text>
<path d="M422.6 1118.9L460.7 1137.9L549.4 1138.0L676.2 1156.8" fill="none" stroke="#000" stroke-width="1.5"/>
<path d="M422.6 1115.0L427.2 1123.4H418.0Z" fill="#000"/>
<path d="M460.7 1128.2V1147.6M455.8 1128.2h9.8M455.8 1147.6h9.8" fill="none" stroke="#000" stroke-width="1.25"/>
<path d="M460.7 1134.0L465.3 1142.4H456.1Z" fill="#000"/>
<path d="M549.4 1122.9V1153.1M544.5 1122.9h9.8M544.5 1153.1h9.8" fill="none" stroke="#000" stroke-width="1.25"/>
<path d="M549.4 1134.1L554.0 1142.5H544.8Z" fill="#000"/>
<path d="M676.2 1139.0V1174.6M671.4 1139.0h9.8M671.4 1174.6h9.8" fill="none" stroke="#000" stroke-width="1.25"/>
<path d="M676.2 1152.9L680.9 1161.3H671.6Z" fill="#000"/>
<text x="676.2" y="1136.5" text-anchor="middle" class="st">*</text>
<path d="M566.4 1064.9h14.6" stroke="#000" stroke-width="1.2"/>
<path d="M573.7 1060.7L578.3 1069.1H569.1Z" fill="#000"/>
<text x="588.2" y="1066.6" class="lg">72h IC<tspan class="sub" dy="2.7">50</tspan><tspan dy="-2.7"> 170.9<tspan class="pm">±</tspan>37.34</tspan></text>
</svg>
</div>
</body></html>
